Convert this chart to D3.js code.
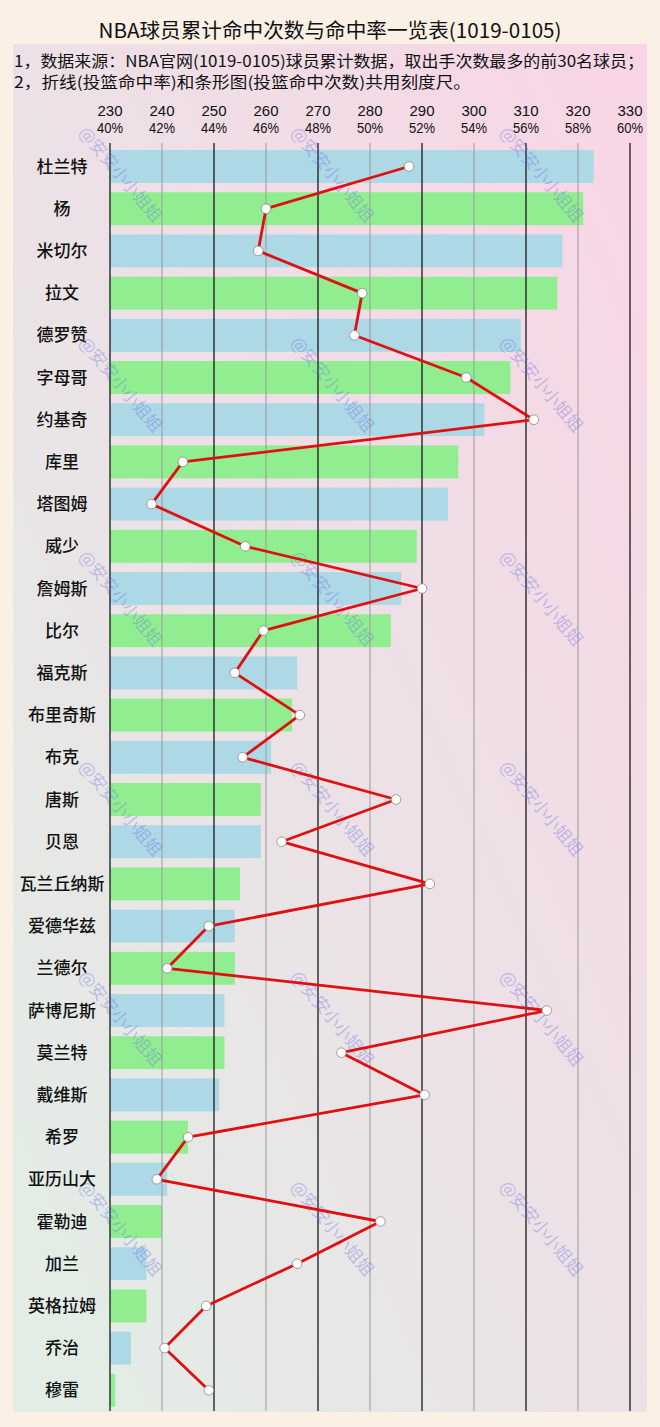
<!DOCTYPE html>
<html><head><meta charset="utf-8">
<script src="https://cdn.jsdelivr.net/npm/d3@7"></script>
<style>
body{margin:0;background:#faf0e6;}
svg{display:block;font-family:"Noto Sans CJK SC","Noto Sans",sans-serif;}
</style>
</head><body>
<svg id="chart" width="660" height="1427"></svg>
<script>
const players = ["杜兰特","杨","米切尔","拉文","德罗赞","字母哥","约基奇","库里","塔图姆","威少","詹姆斯","比尔","福克斯","布里奇斯","布克","唐斯","贝恩","瓦兰丘纳斯","爱德华兹","兰德尔","萨博尼斯","莫兰特","戴维斯","希罗","亚历山大","霍勒迪","加兰","英格拉姆","乔治","穆雷"];
const madeShots = [323,321,317,316,309,307,302,297,295,289,286,284,266,265,261,259,259,255,254,254,252,252,251,245,241,240,237,237,234,231];
const fgPct = [51.5,46.0,45.7,49.7,49.4,53.7,56.3,42.8,41.6,45.2,52.0,45.9,44.8,47.3,45.1,51.0,46.6,52.3,43.8,42.2,56.8,48.9,52.1,43.0,41.8,50.4,47.2,43.7,42.1,43.8];
const countTicks = [230,240,250,260,270,280,290,300,310,320,330];
const pctTicks = [40,42,44,46,48,50,52,54,56,58,60];
const titleText = "NBA球员累计命中次数与命中率一览表(1019-0105)";
const noteLines = ["1，数据来源：NBA官网(1019-0105)球员累计数据，取出手次数最多的前30名球员；","2，折线(投篮命中率)和条形图(投篮命中次数)共用刻度尺。"];
const watermark = "@安安小小姐姐";

const svg = d3.select("#chart");
const defs = svg.append("defs");
const grad = defs.append("linearGradient").attr("id","bg")
  .attr("x1","1").attr("y1","0").attr("x2","0").attr("y2","1");
grad.append("stop").attr("offset","0%").attr("stop-color","#f9d5e5");
grad.append("stop").attr("offset","50%").attr("stop-color","#ece1e6");
grad.append("stop").attr("offset","100%").attr("stop-color","#e1eee5");

// panel
svg.append("rect").attr("x",13).attr("y",44).attr("width",634).attr("height",1368).attr("fill","url(#bg)");

// title
svg.append("text").attr("x",330).attr("y",38).attr("text-anchor","middle")
  .attr("font-size",20).attr("fill","#111")
  .attr("textLength",463).attr("lengthAdjust","spacingAndGlyphs").text(titleText);

// notes
const noteLens = [630,457];
noteLines.forEach((t,i)=>{
  svg.append("text").attr("font-size",15.5).attr("fill","#111")
    .attr("x",14).attr("y",67+i*21)
    .attr("textLength",noteLens[i]).attr("lengthAdjust","spacingAndGlyphs").text(t);
});

const xCount = d3.scaleLinear().domain([230,330]).range([110,630]);
const xPct = d3.scaleLinear().domain([40,60]).range([110,630]);
const y = d3.scaleBand().domain(players).range([145.4,1411.4]).paddingInner(0.22).paddingOuter(0.11);

// bars
svg.append("g").selectAll("rect").data(players).join("rect")
  .attr("x",xCount(230))
  .attr("y",d=>y(d))
  .attr("width",(d,i)=>xCount(madeShots[i])-xCount(230))
  .attr("height",y.bandwidth())
  .attr("fill",(d,i)=>i%2===0?"#add8e6":"#90ee90");

// gridlines
svg.append("g").selectAll("line").data(countTicks).join("line")
  .attr("x1",d=>xCount(d)).attr("x2",d=>xCount(d))
  .attr("y1",143).attr("y2",1411)
  .attr("stroke",(d,i)=>i%2===0?"#1a1a1a":"#9a9a9a")
  .attr("stroke-width",(d,i)=>i%2===0?1.3:1);

// watermarks (above bars)
const wmRows = [133,343,557,767,977,1187];
const wmCols = [78,290,499];
const wm = svg.append("g");
wmRows.forEach(ry=>wmCols.forEach(cx=>{
  wm.append("text").attr("transform",`translate(${cx},${ry}) rotate(50)`)
    .attr("font-size",17).attr("fill","rgba(110,110,225,0.38)").text(watermark);
}));

// top tick labels
const tg = svg.append("g").attr("font-size",15).attr("fill","#111").attr("text-anchor","middle")
  .style("font-family","'Liberation Sans Narrow','Liberation Sans',sans-serif");
countTicks.forEach((t,i)=>{
  tg.append("text").attr("x",xCount(t)).attr("y",116).attr("textLength",25).attr("lengthAdjust","spacingAndGlyphs").text(t);
  tg.append("text").attr("x",xPct(pctTicks[i])).attr("y",133).attr("textLength",26).attr("lengthAdjust","spacingAndGlyphs").text(pctTicks[i]+"%");
});

// category labels
svg.append("g").selectAll("text").data(players).join("text")
  .attr("x",62).attr("y",d=>y(d)+y.bandwidth()/2)
  .attr("dy","0.36em").attr("text-anchor","middle")
  .attr("font-size",17).attr("font-weight",500).attr("fill","#111").text(d=>d);

// line
const pts = players.map((p,i)=>[xPct(fgPct[i]), y(p)+y.bandwidth()/2]);
svg.append("path").attr("d",d3.line()(pts)).attr("fill","none")
  .attr("stroke","#e01010").attr("stroke-width",2.8).attr("stroke-linejoin","round");
svg.append("g").selectAll("circle").data(pts).join("circle")
  .attr("cx",d=>d[0]).attr("cy",d=>d[1]).attr("r",4.8)
  .attr("fill","#fff").attr("stroke","#888").attr("stroke-width",0.8);
</script>
</body></html>
